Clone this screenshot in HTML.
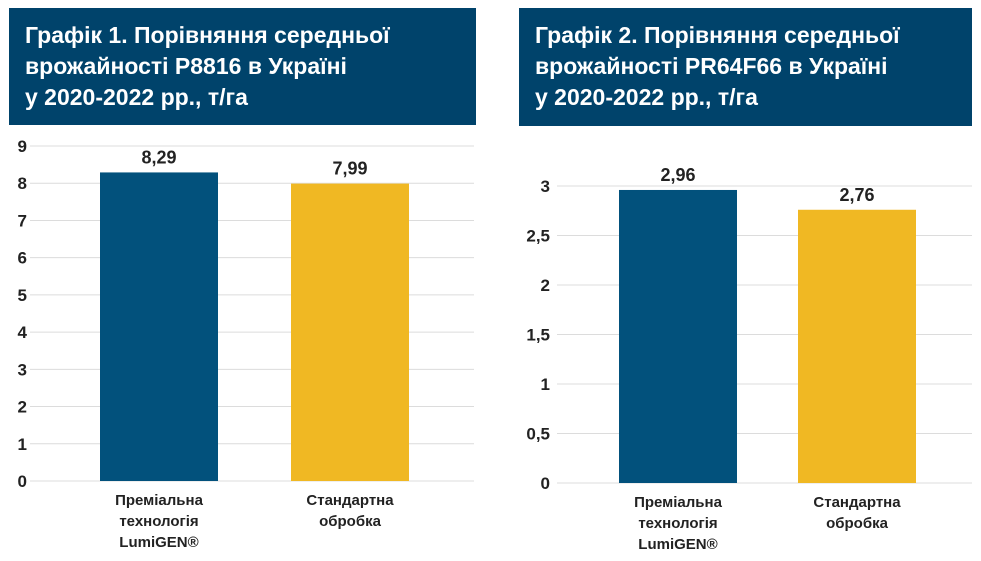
<!DOCTYPE html>
<html><head><meta charset="utf-8"><style>
body{margin:0;background:#fff;width:981px;height:561px;overflow:hidden;font-family:"Liberation Sans Narrow","Liberation Sans",sans-serif}
.hdr{position:absolute;background:#00436b;color:#fff;font-weight:bold;font-size:23px;line-height:31px;padding:12px 0 0 16px;box-sizing:border-box}
svg{position:absolute;left:0;top:0}
</style></head><body>
<div class="hdr" style="left:9px;top:8px;width:467px;height:117px">Графік 1. Порівняння середньої<br>врожайності P8816 в Україні<br>у 2020-2022 рр., т/га</div>
<div class="hdr" style="left:519px;top:8px;width:453px;height:118px">Графік 2. Порівняння середньої<br>врожайності PR64F66 в Україні<br>у 2020-2022 рр., т/га</div>
<svg id="s" width="981" height="561"></svg>
<script>
const cats=["Преміальна|технологія|LumiGEN®","Стандартна|обробка"];
const vals1=[8.29,7.99];
const vals2=[2.96,2.76];
const ticks1=[0,1,2,3,4,5,6,7,8,9];
const ticks2=[0,0.5,1,1.5,2,2.5,3];
const valLabels1=["8,29","7,99"];
const valLabels2=["2,96","2,76"];
const colors=["#02517c","#f0b823"];
const NS="http://www.w3.org/2000/svg";
const svg=document.getElementById('s');
function mk(t,a,txt){const e=document.createElementNS(NS,t);for(const k in a)e.setAttribute(k,a[k]);if(txt!=null)e.textContent=txt;svg.appendChild(e);return e;}
function chart(id,vals,ticks,vl,cfg){
  const y=v=>cfg.y0-(v-0)/(cfg.max)*(cfg.y0-cfg.yTop);
  ticks.forEach(t=>{
    const l=mk('line',{x1:cfg.gx1,x2:cfg.gx2,y1:y(t),y2:y(t),stroke:'#dcdcdc','stroke-width':1});
    
    
    const tx=mk('text',{x:cfg.tx,y:y(t)+6,'text-anchor':'end','font-size':17,'font-weight':'bold',fill:'#222'},String(t).replace('.',','));
    
    
  });
  vals.forEach((v,i)=>{
    const cx=cfg.bx[i],w=118;
    const r=mk('rect',{x:cx-w/2,y:y(v),width:w,height:cfg.y0-y(v),fill:colors[i]});
    
    
    const t=mk('text',{x:cx,y:y(v)-9,'text-anchor':'middle','font-size':18,'font-weight':'bold',fill:'#222'},vl[i]);
    
    
    cats[i].split('|').forEach((s,j)=>{
      const c=mk('text',{x:cx,y:cfg.y0+24+j*21,'text-anchor':'middle','font-size':15,'font-weight':'bold',fill:'#222'},s);
      
      
    });
  });
}
chart('chart1',vals1,ticks1,valLabels1,{y0:481,yTop:146,max:9,gx1:30,gx2:474,tx:27,bx:[159,350]});
chart('chart2',vals2,ticks2,valLabels2,{y0:483,yTop:186,max:3,gx1:557,gx2:972,tx:550,bx:[678,857]});
</script>
</body></html>
